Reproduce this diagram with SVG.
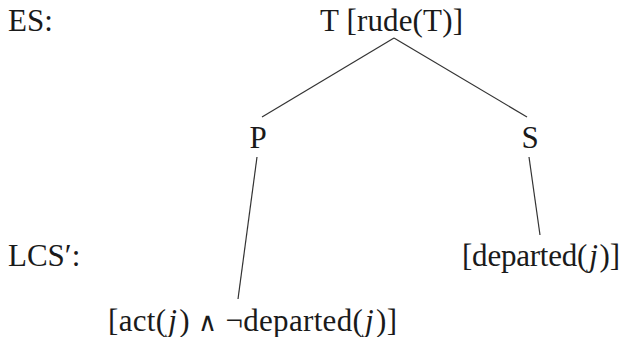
<svg xmlns="http://www.w3.org/2000/svg" width="624" height="337" viewBox="0 0 624 337">
<style>
text{font-family:"Liberation Serif","Times New Roman",serif;font-size:31px;fill:#1a1a1a}
.i{font-style:italic}
.op{font-family:"DejaVu Serif","Liberation Serif",serif;font-size:26px}
line{stroke:#333;stroke-width:1.2}
</style>
<rect width="624" height="337" fill="#fff"/>
<g id="labels">
<text x="8" y="31">ES:</text>
<text x="8" y="266">LCS′:</text>
</g>
<g id="T"><text x="320" y="31" textLength="143" lengthAdjust="spacing">T [rude(T)]</text></g>
<g id="P"><text x="258" y="148" text-anchor="middle">P</text></g>
<g id="S"><text x="530" y="148" text-anchor="middle">S</text></g>
<g id="LCS-P"><text x="108" y="331" textLength="289" lengthAdjust="spacing">[act(<tspan class="i" dx="2">j</tspan><tspan dx="2">) </tspan><tspan class="op">∧</tspan> ¬departed(<tspan class="i" dx="2">j</tspan><tspan dx="2">)]</tspan></text></g>
<g id="LCS-S"><text x="462" y="266" textLength="158" lengthAdjust="spacing">[departed(<tspan class="i" dx="2">j</tspan><tspan dx="2">)]</tspan></text></g>
<g id="connectors">
<line x1="394" y1="38" x2="262" y2="117"/>
<line x1="394" y1="38" x2="527" y2="117"/>
<line x1="257" y1="157" x2="238" y2="299"/>
<line x1="529" y1="157" x2="540" y2="235"/>
</g>
</svg>
